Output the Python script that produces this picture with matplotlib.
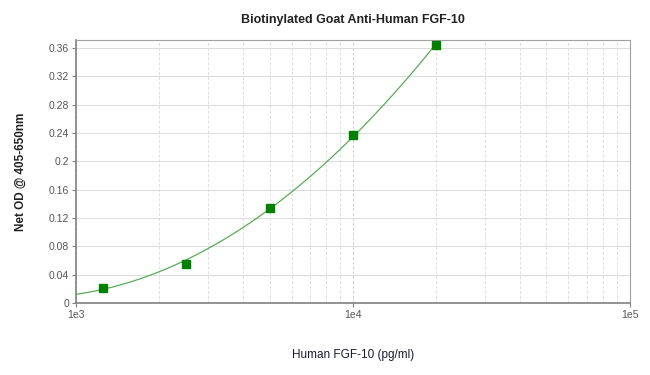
import numpy as np
import matplotlib
matplotlib.use("Agg")
import matplotlib.pyplot as plt
from matplotlib.ticker import FixedLocator, LogLocator, NullFormatter

plt.rcParams['font.family'] = ['Liberation Sans', 'DejaVu Sans']

# 标准曲线数据
conc = [1250, 2500, 5000, 10000, 20000]
od = [0.0217, 0.0555, 0.1344, 0.2376, 0.3644]
y_ticks = [0, 0.04, 0.08, 0.12, 0.16, 0.2, 0.24, 0.28, 0.32, 0.36]
y_tick_labels = ['0', '0.04', '0.08', '0.12', '0.16', '0.2', '0.24', '0.28', '0.32', '0.36']
x_ticks = [1e3, 1e4, 1e5]
x_tick_labels = ['1e3', '1e4', '1e5']


def main():
	fig = plt.figure(figsize=(6.5, 3.75), dpi=100)
	ax = fig.add_axes([0.117, 0.192, 0.852, 0.701])

	# 拟合曲线 (log x 上的二次多项式)
	coef = np.polyfit(np.log10(conc), od, 2)
	xs = np.logspace(3, np.log10(max(conc)), 200)
	ax.plot(xs, np.polyval(coef, np.log10(xs)), color='#5aaa5a', lw=0.9, zorder=3)
	ax.plot(conc, od, 's', color='#008000', ms=5.5, zorder=4, clip_on=False)

	ax.set_xscale('log')
	ax.set_xlim(1e3, 1e5)
	ax.set_ylim(0, 0.371)

	ax.xaxis.set_major_locator(FixedLocator(x_ticks))
	ax.set_xticklabels(x_tick_labels)
	ax.xaxis.set_minor_locator(LogLocator(base=10, subs=np.arange(2, 10)))
	ax.xaxis.set_minor_formatter(NullFormatter())
	ax.set_yticks(y_ticks)
	ax.set_yticklabels(y_tick_labels)

	ax.grid(True, which='major', axis='x', color='#d0d0d0', ls=(0, (3, 2)), lw=0.7)
	ax.grid(True, which='minor', axis='x', color='#dddddd', ls=(0, (3, 2)), lw=0.7)
	ax.grid(True, which='major', axis='y', color='#dcdcdc', ls='-', lw=0.8)
	ax.set_axisbelow(True)

	for s in ax.spines.values():
		s.set_color('#a0a0a0')
	ax.spines['left'].set_color('#808080')
	ax.spines['bottom'].set_color('#808080')
	ax.spines['left'].set_linewidth(1.2)
	ax.spines['bottom'].set_linewidth(1.2)

	ax.tick_params(axis='both', which='both', length=3, color='#808080',
				   labelsize=7.5, labelcolor='#555555')
	ax.tick_params(axis='x', which='minor', length=0)
	ax.tick_params(axis='x', pad=2)
	ax.tick_params(axis='y', pad=2)

	ax.set_title('Biotinylated Goat Anti-Human FGF-10', fontsize=9, fontweight='bold',
				 color='#222222', pad=12)
	ax.set_ylabel('Net OD @ 405-650nm', fontsize=8.5, fontweight='bold', color='#222222',
				  labelpad=16)
	ax.set_xlabel('Human FGF-10 (pg/ml)', fontsize=8.5, color='#1a1a33', labelpad=21)

	fig.savefig('out.png', dpi=100)


if __name__ == '__main__':
	main()
